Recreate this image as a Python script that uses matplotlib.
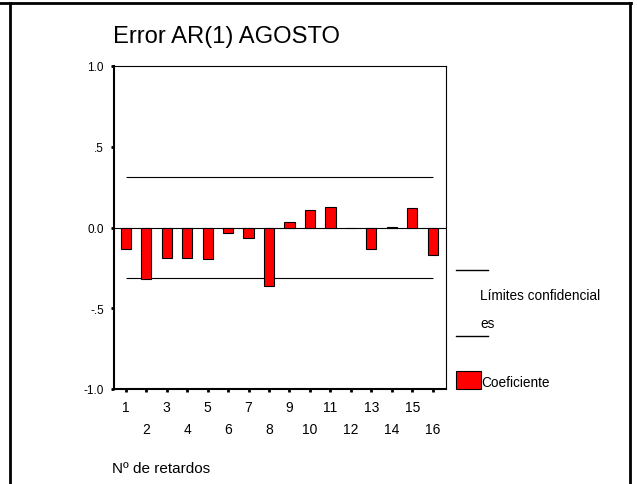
import matplotlib
matplotlib.use("Agg")
import matplotlib.pyplot as plt
from matplotlib.lines import Line2D
from matplotlib.patches import Rectangle

plt.rcParams["font.family"] = ["Liberation Sans", "DejaVu Sans"]

# lags and ACF coefficients
lags = list(range(1, 17))
coefs = [-0.134, -0.316, -0.19, -0.19, -0.198, -0.037, -0.064, -0.363,
         0.033, 0.109, 0.128, -0.003, -0.134, 0.002, 0.118, -0.173]
conf_limit = 0.314
yticks = [-1.0, -0.5, 0.0, 0.5, 1.0]
ytick_labels = ["-1.0", "-.5", "0.0", ".5", "1.0"]

W, H = 637, 485
fig = plt.figure(figsize=(W / 100, H / 100), dpi=100)


def fx(px):
    return px / W


def fy(py):
    return 1 - py / H


ax = fig.add_axes([fx(113.5), fy(390), fx(446) - fx(113.5), fy(67) - fy(390)])

ax.bar(lags, coefs, width=0.5, color="#ff0000", edgecolor="black", linewidth=0.8, zorder=3)
ax.axhline(0, color="black", linewidth=0.8, zorder=2)
ax.hlines([conf_limit, -conf_limit], 1, 16, color="black", linewidth=0.8, zorder=2)

ax.set_xlim(0.4, 16.65)
ax.set_ylim(-1.0, 1.0)

ax.set_yticks(yticks)
ax.set_yticklabels(ytick_labels)
ax.tick_params(axis="y", length=2, width=2, pad=5, labelsize=8.5)

odd = [l for l in lags if l % 2 == 1]
even = [l for l in lags if l % 2 == 0]
ax.set_xticks(odd)
ax.set_xticklabels([str(l) for l in odd])
ax.set_xticks(even, minor=True)
ax.set_xticklabels([str(l) for l in even], minor=True)
ax.tick_params(axis="x", which="both", length=2, width=2, labelsize=10)
ax.tick_params(axis="x", which="major", pad=6)
ax.tick_params(axis="x", which="minor", pad=22)

for side in ["top", "right"]:
    ax.spines[side].set_linewidth(0.8)
ax.spines["left"].set_linewidth(1.5)
ax.spines["bottom"].set_linewidth(1.5)

fig.text(fx(113), fy(37), "Error AR(1) AGOSTO", fontsize=17.1, ha="left", va="center")
fig.text(fx(111.5), fy(469), "Nº de retardos", fontsize=11, ha="left", va="center")

# legend drawn by hand
for yy in (271, 337):
    fig.add_artist(Line2D([fx(456), fx(488)], [fy(yy), fy(yy)], color="black", linewidth=1))
fig.text(fx(480.5), fy(296), "Límites confidencial", fontsize=9.8, ha="left", va="center")
fig.text(fx(480.5), fy(324), "es", fontsize=9.8, ha="left", va="center")
fig.add_artist(Rectangle((fx(456), fy(390)), fx(481) - fx(456), fy(372) - fy(390),
                         facecolor="#ff0000", edgecolor="black", linewidth=0.8,
                         transform=fig.transFigure))
fig.text(fx(481), fy(383), "Coeficiente", fontsize=9.8, ha="left", va="center")

# outer frame
fig.add_artist(Line2D([0, fx(631)], [fy(4), fy(4)], color="black", linewidth=2))
fig.add_artist(Line2D([fx(10), fx(10)], [fy(4), 0], color="black", linewidth=2))
fig.add_artist(Line2D([fx(630), fx(630)], [fy(4), 0], color="black", linewidth=2))

fig.savefig("out.png", dpi=100, facecolor="white")
